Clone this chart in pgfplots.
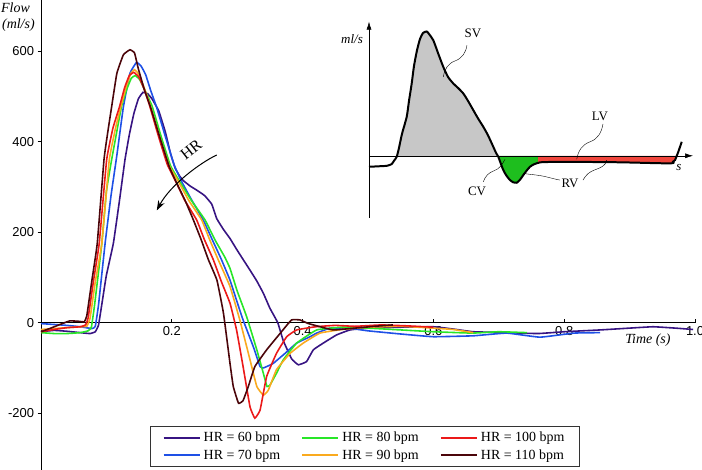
\documentclass[border=0pt]{standalone}
\usepackage{pgfplots}
\pgfplotsset{compat=1.18}
\usepackage{fontspec}
\setmainfont{Liberation Serif}
\newfontfamily\tickfont{Liberation Sans}
\usetikzlibrary{arrows.meta}
\definecolor{c60}{RGB}{55,20,130}
\definecolor{c70}{RGB}{30,80,230}
\definecolor{c80}{RGB}{40,230,40}
\definecolor{c90}{RGB}{250,170,30}
\definecolor{c100}{RGB}{235,25,25}
\definecolor{c110}{RGB}{75,5,10}
\begin{document}
\begin{tikzpicture}
\begin{axis}[
  at={(41bp,0bp)}, anchor=south west,
  scale only axis, width=654bp, height=470bp,
  xmin=0, xmax=1, ymin=-325.5, ymax=713,
  axis lines=middle, axis line style={-, line width=0.8pt},
  xtick={0.2,0.4,0.6,0.8,1.0}, xticklabels={0.2,0.4,0.6,0.8,1.0},
  ytick={-200,0,200,400,600}, yticklabels={-200,0,200,400,600},
  hide obscured y ticks=false,
  xtick align=inside, ytick align=outside,
  major tick length=3.5pt,
  tick style={line width=0.8pt, black},
  ticklabel style={font=\tickfont\fontsize{13}{15}\selectfont},
  clip=false,
  legend columns=3,
  legend cell align=left,
  legend style={at={(0.1667,0.0064)}, anchor=south west, draw=black!80, line width=1pt,
    font=\fontsize{14}{16}\selectfont, inner xsep=12bp, inner ysep=3bp,
    nodes={inner ysep=3bp, inner xsep=3bp},
    /tikz/every even column/.append style={column sep=18bp}},
  legend image code/.code={\draw[#1, line width=2.2pt] (0bp,0bp) -- (36bp,0bp);},
]
\addlegendimage{c60}\addlegendentry{HR = 60 bpm}
\addlegendimage{c80}\addlegendentry{HR = 80 bpm}
\addlegendimage{c100}\addlegendentry{HR = 100 bpm}
\addlegendimage{c70}\addlegendentry{HR = 70 bpm}
\addlegendimage{c90}\addlegendentry{HR = 90 bpm}
\addlegendimage{c110}\addlegendentry{HR = 110 bpm}
% HR = 60
\addplot[c60, line width=1.6pt, smooth, tension=0.2, forget plot] coordinates {
(0,-20)(0.02,-17)(0.04,-19)(0.06,-22)(0.075,-24)(0.083,-20)(0.088,-5)(0.094,50)(0.1,105)(0.1106,175)(0.12,270)(0.1284,360)(0.135,415)(0.142,462)(0.149,495)(0.156,509)(0.163,506)(0.17,494)(0.18,468)(0.19,422)(0.198,374)(0.205,342)(0.212,324)(0.2176,314)(0.228,302)(0.238,293)(0.25,281)(0.261,262)(0.2687,230)(0.279,206)(0.289,186)(0.3,160)(0.3196,116)(0.33,92)(0.34,65)(0.35,32)(0.362,0)(0.3705,-40)(0.3833,-80)(0.3935,-93)(0.406,-86)(0.4164,-60)(0.4317,-45)(0.452,-27)(0.4725,-16)(0.5,-12)(0.55,-10)(0.6,-9)(0.63,-14)(0.661,-20)(0.712,-22)(0.76,-24)(0.8,-20)(0.855,-16)(0.9,-12)(0.936,-9)(0.97,-12)(0.997,-15)};
% HR = 70
\addplot[c70, line width=1.6pt, smooth, tension=0.2, forget plot] coordinates {
(0,-2)(0.02,-4)(0.04,-6)(0.06,-9)(0.078,-13)(0.083,-8)(0.088,40)(0.098,175)(0.107,280)(0.116,370)(0.126,477)(0.136,551)(0.146,575)(0.153,567)(0.16,548)(0.168,512)(0.177,475)(0.19,412)(0.204,347)(0.215,312)(0.23,272)(0.248,227)(0.262,183)(0.276,139)(0.289,94)(0.3,45)(0.309,6)(0.3246,-53)(0.335,-97)(0.34,-100)(0.345,-97)(0.355,-90)(0.373,-68)(0.391,-45)(0.41,-32)(0.4216,-23)(0.442,-12)(0.47,-12)(0.5,-18)(0.55,-25)(0.6,-31)(0.661,-29)(0.712,-23)(0.763,-32)(0.815,-23)(0.855,-22)};
% HR = 80
\addplot[c80, line width=1.6pt, smooth, tension=0.2, forget plot] coordinates {
(0,-22)(0.02,-24)(0.04,-24)(0.06,-22)(0.072,-18)(0.077,-10)(0.082,40)(0.093,175)(0.1,290)(0.108,360)(0.123,477)(0.131,515)(0.138,540)(0.144,546)(0.151,537)(0.16,510)(0.17,478)(0.184,410)(0.198,347)(0.212,312)(0.23,270)(0.2508,227)(0.266,183)(0.281,145)(0.289,120)(0.3,70)(0.3145,13)(0.33,-60)(0.34,-112)(0.3456,-141)(0.35,-138)(0.36,-112)(0.3705,-82)(0.391,-45)(0.4216,-16)(0.46,-10)(0.5,-12)(0.55,-16)(0.6,-20)(0.66,-23)(0.7,-20)(0.743,-22)};
% HR = 90
\addplot[c90, line width=1.6pt, smooth, tension=0.2, forget plot] coordinates {
(0,-15)(0.03,-12)(0.06,-9)(0.07,-8)(0.075,10)(0.083,90)(0.093,175)(0.1044,360)(0.114,430)(0.122,477)(0.13,520)(0.137,550)(0.143,559)(0.15,548)(0.158,518)(0.167,480)(0.181,412)(0.196,347)(0.21,312)(0.226,270)(0.2457,227)(0.258,183)(0.271,139)(0.289,80)(0.304,6)(0.3196,-82)(0.33,-141)(0.34,-160)(0.3476,-149)(0.36,-104)(0.3807,-68)(0.401,-45)(0.4266,-23)(0.46,-15)(0.5,-10)(0.55,-8)(0.6,-12)(0.63,-15)(0.661,-22)};
% HR = 100
\addplot[c100, line width=1.6pt, smooth, tension=0.2, forget plot] coordinates {
(0,-20)(0.02,-15)(0.04,-11)(0.06,-9)(0.068,-5)(0.072,10)(0.08,90)(0.089,175)(0.1004,360)(0.11,430)(0.12,477)(0.128,520)(0.135,546)(0.142,553)(0.15,542)(0.158,515)(0.166,480)(0.179,415)(0.193,350)(0.206,312)(0.22,270)(0.238,227)(0.25,183)(0.2635,139)(0.276,90)(0.289,43)(0.299,-16)(0.309,-97)(0.3196,-186)(0.327,-211)(0.335,-193)(0.345,-119)(0.36,-68)(0.3757,-31)(0.391,-16)(0.42,-9)(0.45,-6)(0.48,-8)(0.52,-5)(0.56,-7)(0.6,-10)};
% HR = 110
\addplot[c110, line width=1.6pt, smooth, tension=0.2, forget plot] coordinates {
(0,-20)(0.015,-12)(0.029,-4)(0.044,4)(0.058,3)(0.066,2)(0.07,15)(0.078,95)(0.086,175)(0.0963,360)(0.102,420)(0.108,477)(0.116,551)(0.126,592)(0.136,603)(0.143,596)(0.149,560)(0.158,515)(0.168,474)(0.182,408)(0.196,345)(0.207,310)(0.221,268)(0.233,227)(0.245,183)(0.256,139)(0.269,94)(0.279,21)(0.289,-90)(0.294,-141)(0.302,-178)(0.309,-172)(0.317,-141)(0.327,-97)(0.345,-60)(0.366,-23)(0.383,6)(0.396,6)(0.409,-2)(0.427,-9)(0.447,-16)(0.48,-12)(0.51,-8)(0.538,-5)};
% labels
\node[font=\itshape\fontsize{14}{16}\selectfont, anchor=west, inner sep=0pt] at (axis cs:-0.0612,697) {Flow};
\node[font=\itshape\fontsize{14}{16}\selectfont, anchor=west, inner sep=0pt] at (axis cs:-0.0597,658) {(ml/s)};
\node[font=\itshape\fontsize{14}{16}\selectfont] at (axis cs:0.928,-38) {Time (s)};
\draw[-{Stealth[length=10pt,width=7pt]}, line width=1pt] (axis cs:0.2687,370.6) .. controls (axis cs:0.2431,353) and (axis cs:0.1976,304) .. (axis cs:0.177,248);
\node[font=\fontsize{16}{18}\selectfont, rotate=38, inner sep=1pt] at (axis cs:0.2294,383) {HR};
\end{axis}
% inset schematic
\begin{axis}[
  at={(369bp,252bp)}, anchor=south west,
  scale only axis, width=324bp, height=196.3bp,
  xmin=0, xmax=324, ymin=-62.3, ymax=134.3,
  axis lines=middle, axis line style={line width=0.5pt, -{Latex[length=8pt,width=5pt]}},
  xtick=\empty, ytick=\empty, clip=false,
]
\addplot[fill=black!22, draw=none] coordinates {
(27.9,0)(30,8)(33,22)(37.7,39)(40,55)(42.7,72.4)(45,90)(48,105.7)(51,117)(54,123)(57.7,124.5)(60,122)(64.3,115.7)(69,103)(74.3,89)(79,79)(84.3,72.4)(89,68)(94.3,62.4)(99,55)(104.3,45.7)(109,37.5)(114.3,29)(119,20.5)(124.3,9)(127,3)(129,0)};
\addplot[fill={rgb,255:red,30;green,190;blue,30}, draw=none] coordinates {
(129,0)(129.3,-1)(131.5,-7)(134.3,-14.3)(137.5,-20)(141,-24.3)(144.5,-26.7)(147.7,-27)(151,-24)(154.3,-19.3)(157.5,-15)(161,-11)(165,-8.5)(169,-7)(169,0)};
\addplot[fill={rgb,255:red,240;green,70;blue,60}, draw=none] coordinates {
(169,0)(169,-7)(171,-6.6)(180,-6.2)(194.3,-6)(250,-6.5)(301,-7.6)(304,-6)(306,-4.3)(307.6,0)};
\addplot[black, line width=2pt, smooth, tension=0.4] coordinates {
(0,-11)(10,-10.5)(18,-10)(22.7,-8.3)(25,-5)(27.7,-1)(30,8)(33,22)(37.7,39)(40,55)(42.7,72.4)(45,90)(48,105.7)(51,117)(54,123)(57.7,124.5)(60,122)(64.3,115.7)(69,103)(74.3,89)(79,79)(84.3,72.4)(89,68)(94.3,62.4)(99,55)(104.3,45.7)(109,37.5)(114.3,29)(119,20.5)(124.3,9)(127,3)(129.3,-1)(131.5,-7)(134.3,-14.3)(137.5,-20)(141,-24.3)(144.5,-26.7)(147.7,-27)(151,-24)(154.3,-19.3)(157.5,-15)(161,-11)(165,-8.5)(171,-6.6)(180,-6.2)(194.3,-6)(250,-6.5)(301,-7.6)(304,-6)(306,-4.3)(309.3,4)(312.7,14)};
\draw[line width=0.4pt] (axis cs:0,0) -- (axis cs:320,0);
\node[font=\itshape\fontsize{13}{15}\selectfont] at (axis cs:-17,117) {ml/s};
\node[font=\itshape\fontsize{13}{15}\selectfont] at (axis cs:310,-12) {s};
\node[font=\fontsize{13}{15}\selectfont] at (axis cs:104,123) {SV};
\node[font=\fontsize{13}{15}\selectfont] at (axis cs:231,39) {LV};
\node[font=\fontsize{13}{15}\selectfont] at (axis cs:201,-28) {RV};
\node[font=\fontsize{13}{15}\selectfont] at (axis cs:108,-36) {CV};
\draw[line width=0.4pt] (axis cs:74.3,79) to[out=80,in=200] (axis cs:86,95) to[out=20,in=-100] (axis cs:98,110.7);
\draw[line width=0.4pt] (axis cs:207.7,-3.6) to[out=80,in=200] (axis cs:221,14) to[out=20,in=-100] (axis cs:234,32);
\draw[line width=0.4pt] (axis cs:154.3,-17.6) to[out=-10,in=170] (axis cs:172,-20) to[out=-10,in=170] (axis cs:191,-24.3);
\draw[line width=0.4pt] (axis cs:237.7,-4.3) to[out=-100,in=20] (axis cs:226,-14) to[out=200,in=60] (axis cs:214,-24.3);
\draw[line width=0.4pt] (axis cs:136,-3.6) to[out=-120,in=20] (axis cs:125,-15) to[out=200,in=70] (axis cs:114.3,-26);
\end{axis}
\pgfresetboundingbox
\path[use as bounding box] (0,0) rectangle (702bp,470bp);
\end{tikzpicture}
\end{document}
